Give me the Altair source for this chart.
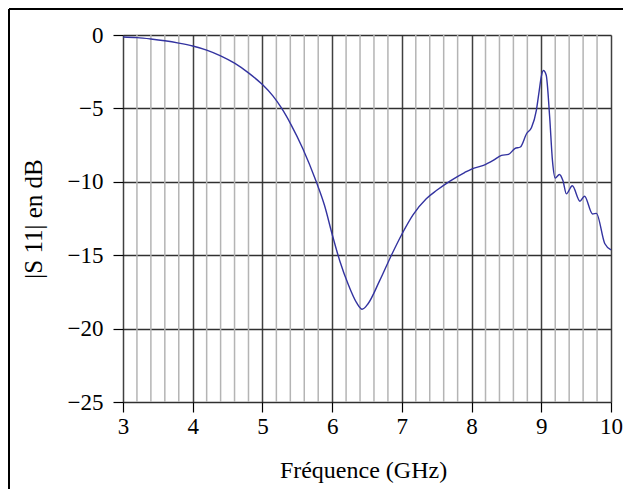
import altair as alt
import pandas as pd

freq = [3.0, 3.2, 3.4, 3.6, 3.8, 4.0, 4.2, 4.4, 4.6, 4.8, 5.0, 5.15, 5.27, 5.41, 5.58,
        5.77, 5.89, 6.0, 6.11, 6.23, 6.35, 6.43, 6.51, 6.68, 6.85, 7.0, 7.16, 7.35, 7.5,
        7.69, 7.9, 8.0, 8.17, 8.31, 8.43, 8.53, 8.62, 8.70, 8.79, 8.86, 8.93, 8.97, 9.0,
        9.03, 9.07, 9.12, 9.16, 9.20, 9.26, 9.31, 9.36, 9.445, 9.555, 9.62, 9.735, 9.79,
        9.91, 10.0]
s11 = [-0.14, -0.18, -0.27, -0.39, -0.55, -0.75, -1.03, -1.42, -1.92, -2.58, -3.38, -4.15,
       -4.95, -6.1, -7.75, -9.97, -11.6, -13.57, -15.39, -16.98, -18.23, -18.68, -18.34,
       -16.75, -15.0, -13.57, -12.25, -11.15, -10.58, -9.95, -9.37, -9.13, -8.88, -8.54,
       -8.2, -8.13, -7.74, -7.63, -6.71, -6.3, -5.11, -3.8, -2.83, -2.42, -2.72, -5.57,
       -8.54, -9.75, -9.5, -9.91, -10.82, -10.27, -11.32, -10.98, -12.19, -12.15, -14.2,
       -14.63]

x_ticks = [3, 4, 5, 6, 7, 8, 9, 10]
y_ticks = [0, -5, -10, -15, -20, -25]
minor_x = [round(i + f, 1) for i in range(3, 10) for f in (0.2, 0.4, 0.6, 0.8)]

df = pd.DataFrame({"f": freq, "s": s11})
df_minor = pd.DataFrame({"m": minor_x})

FONT = "Liberation Serif"

xscale = alt.Scale(domain=[3, 10], nice=False, zero=False)
yscale = alt.Scale(domain=[-25, 0], nice=False, zero=False)

minor = alt.Chart(df_minor).mark_rule(color="#b4b4b4", strokeWidth=1.5).encode(
    x=alt.X("m:Q", scale=xscale)
)

line = alt.Chart(df).mark_line(color="#3333a0", strokeWidth=1.4, interpolate="monotone").encode(
    x=alt.X("f:Q", scale=xscale,
            axis=alt.Axis(values=x_ticks, format="d", title="Fréquence (GHz)", grid=True,
                          gridColor="#404040", gridWidth=1.5, gridOpacity=1,
                          domain=False, tickSize=10, tickColor="black", tickWidth=1.2,
                          labelFlush=False,
                          labelPadding=3, labelFont=FONT, labelFontSize=23,
                          labelColor="black", titleFont=FONT, titleFontSize=24,
                          titleFontWeight="normal", titleColor="black",
                          titleX=240, titleY=75, titleBaseline="alphabetic")),
    y=alt.Y("s:Q", scale=yscale,
            axis=alt.Axis(values=y_ticks, format="d", title="|S 11| en dB", grid=True,
                          gridColor="#303030", gridWidth=1.5, gridOpacity=1,
                          domain=False, tickSize=10, tickColor="black", tickWidth=1.2,
                          labelFlush=False,
                          labelPadding=10, labelFont=FONT, labelFontSize=23,
                          labelColor="black", titleFont=FONT, titleFontSize=25,
                          titleFontWeight="normal", titleColor="black",
                          titleX=-90, titleBaseline="middle")),
)

frame_top = alt.Chart(df_minor).mark_rule(color="black", strokeWidth=2).encode(
    x=alt.value(-114), x2=alt.value(500), y=alt.value(-26)
)
frame_left = alt.Chart(df_minor).mark_rule(color="black", strokeWidth=2).encode(
    x=alt.value(-114), y=alt.value(-26), y2=alt.value(454)
)

chart = alt.layer(minor, line, frame_top, frame_left).properties(
    width=488, height=367,
    autosize=alt.AutoSizeParams(type="none"),
    padding={"left": 115, "top": 27, "right": 12, "bottom": 87},
).configure_view(stroke="black", strokeWidth=2).configure(background="white")

chart.save("out.html", embed_options={"renderer": "svg", "actions": False})
